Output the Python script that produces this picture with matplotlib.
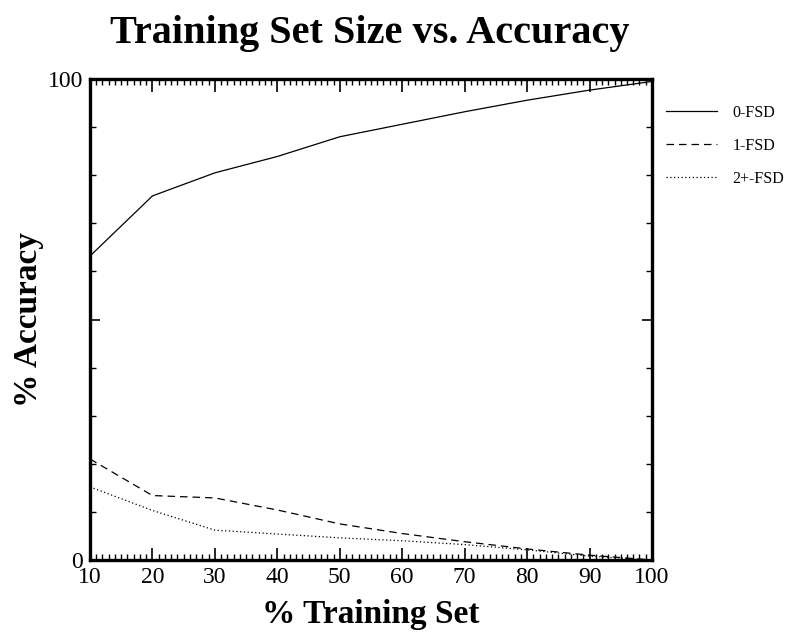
import matplotlib
matplotlib.use("Agg")
import matplotlib.pyplot as plt
from matplotlib.ticker import MultipleLocator, FixedLocator

train_pct = [10, 20, 30, 40, 50, 60, 70, 80, 90, 100]
fsd0 = [63.2, 75.7, 80.5, 83.9, 88.0, 90.6, 93.2, 95.6, 97.7, 99.5]
fsd1 = [21.0, 13.4, 12.9, 10.4, 7.5, 5.5, 3.8, 2.3, 1.0, 0.0]
fsd2 = [15.2, 10.3, 6.2, 5.4, 4.6, 4.0, 3.2, 2.1, 0.8, 0.0]
labels = ["0-FSD", "1-FSD", "2+-FSD"]

plt.rcParams['font.family'] = ['Liberation Serif', 'DejaVu Serif']

fig = plt.figure(figsize=(7.86, 6.37), dpi=100)
ax = fig.add_axes([0.1145, 0.1209, 0.715, 0.755])

ax.plot(train_pct, fsd0, color='black', lw=0.9, ls='-', label=labels[0])
ax.plot(train_pct, fsd1, color='black', lw=0.9, ls=(0, (6, 4)), label=labels[1])
ax.plot(train_pct, fsd2, color='black', lw=0.9, ls=(0, (1, 2)), label=labels[2])

ax.set_xlim(10, 100)
ax.set_ylim(0, 100)

ax.xaxis.set_major_locator(MultipleLocator(10))
ax.xaxis.set_minor_locator(MultipleLocator(1))
ax.yaxis.set_major_locator(FixedLocator([0, 50, 100]))
ax.yaxis.set_minor_locator(MultipleLocator(10))
ax.set_yticklabels(["0", "", "100"])

for s in ax.spines.values():
    s.set_linewidth(2.4)

ax.tick_params(which='both', direction='in', top=True, right=True, color='black')
ax.tick_params(which='major', axis='x', length=9, width=1.2, labelsize=17, pad=5)
ax.tick_params(which='minor', axis='x', length=4, width=1.0)
ax.tick_params(which='major', axis='y', length=7, width=1.2, labelsize=17, pad=5)
ax.tick_params(which='minor', axis='y', length=4, width=1.0)

ax.set_xlabel("% Training Set", fontsize=24, fontweight='bold', labelpad=8)
ax.set_ylabel("% Accuracy", fontsize=24, fontweight='bold', labelpad=3)
fig.text(0.471, 0.948, "Training Set Size vs. Accuracy", fontsize=29,
         fontweight='bold', ha='center', va='center')

leg = ax.legend(loc='upper left', bbox_to_anchor=(1.0, 0.976), frameon=False,
                fontsize=11.5, handlelength=3.15, handletextpad=1.0, labelspacing=1.05)

fig.savefig("out.png", dpi=100)
